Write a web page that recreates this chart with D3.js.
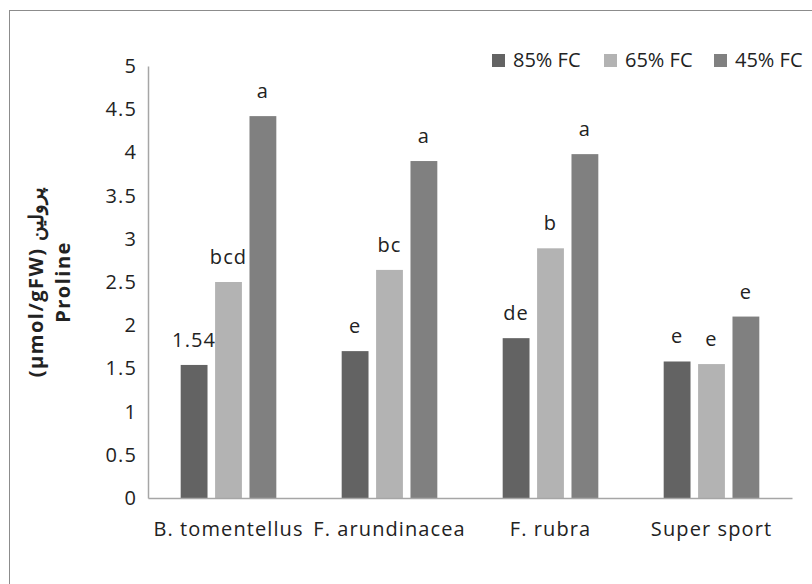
<!DOCTYPE html>
<html><head><meta charset="utf-8">
<script src="https://cdn.jsdelivr.net/npm/d3@7/dist/d3.min.js"></script>
<style>body{margin:0;background:#fff}svg{display:block}</style>
</head><body>
<script>
const categories = ["B. tomentellus", "F. arundinacea", "F. rubra", "Super sport"];
const seriesNames = ["85% FC", "65% FC", "45% FC"];
const fc85 = [1.54, 1.70, 1.85, 1.58];
const fc65 = [2.50, 2.64, 2.89, 1.55];
const fc45 = [4.42, 3.90, 3.98, 2.10];
const lab85 = ["1.54", "e", "de", "e"];
const lab65 = ["bcd", "bc", "b", "e"];
const lab45 = ["a", "a", "a", "e"];
const yTicks = [0, 0.5, 1, 1.5, 2, 2.5, 3, 3.5, 4, 4.5, 5];

(function () {
const colors = ["#636363", "#b3b3b3", "#808080"];
const values = [fc85, fc65, fc45];
const labels = [lab85, lab65, lab45];
const W = 812, H = 584;
const font = "'Open Sans', 'Noto Sans', sans-serif";
const fs = 20, ls = "1.1px";

const svg = d3.select("body").append("svg").attr("width", W).attr("height", H);
svg.append("rect").attr("x", 9.5).attr("y", 10.5).attr("width", 900).attr("height", 700)
  .attr("fill", "none").attr("stroke", "#8c8c8c").attr("stroke-width", 1);

const pL = 148, pR = 792, pT = 66, pB = 498;
const x0 = d3.scaleBand().domain(categories).range([pL, pR]).paddingInner(0).paddingOuter(0);
const x1 = d3.scaleBand().domain(seriesNames).range([0, x0.bandwidth()]).paddingInner(0.22).paddingOuter(0.95);
const y = d3.scaleLinear().domain([0, 5]).range([pB, pT]);

const yAxis = svg.append("g").attr("transform", `translate(${pL},0)`)
  .call(d3.axisLeft(y).tickValues(yTicks).tickSize(0).tickPadding(11).tickFormat(d => String(d)));
yAxis.select(".domain").attr("stroke", "#a6a6a6").attr("stroke-width", 1.5);
yAxis.selectAll("text").attr("font-family", font).attr("font-size", fs).attr("letter-spacing", ls).attr("fill", "#222");

categories.forEach((c, i) => {
  seriesNames.forEach((s, j) => {
    const v = values[j][i];
    svg.append("rect")
      .attr("x", x0(c) + x1(s)).attr("y", y(v))
      .attr("width", x1.bandwidth()).attr("height", y(0) - y(v))
      .attr("fill", colors[j]);
    svg.append("text")
      .attr("x", x0(c) + x1(s) + x1.bandwidth() / 2).attr("y", y(v) - 18)
      .attr("text-anchor", "middle").attr("font-family", font).attr("font-size", fs)
      .attr("letter-spacing", ls).attr("fill", "#222").text(labels[j][i]);
  });
});

const xAxis = svg.append("g").attr("transform", `translate(0,${pB})`)
  .call(d3.axisBottom(x0).tickSize(0).tickPadding(24));
xAxis.select(".domain").attr("stroke", "#a6a6a6").attr("stroke-width", 1.5);
xAxis.selectAll("text").attr("font-family", font).attr("font-size", fs).attr("letter-spacing", ls).attr("fill", "#222");

const yt = svg.append("text").attr("transform", "translate(43,282) rotate(-90)")
  .attr("text-anchor", "middle").attr("font-family", font).attr("font-size", fs)
  .attr("letter-spacing", "1.5px").attr("font-weight", "bold").attr("fill", "#222");
yt.append("tspan").attr("x", 0).attr("dy", 0).text("(μmol/gFW) پرولین");
yt.append("tspan").attr("x", 0).attr("dy", 27).text("Proline");

const legX = [492, 604, 714];
seriesNames.forEach((s, j) => {
  svg.append("rect").attr("x", legX[j]).attr("y", 54).attr("width", 13).attr("height", 13).attr("fill", colors[j]);
  svg.append("text").attr("x", legX[j] + 21).attr("y", 67).attr("font-family", font)
    .attr("font-size", fs).attr("fill", "#222").text(s);
});
})();
</script>
</body></html>
